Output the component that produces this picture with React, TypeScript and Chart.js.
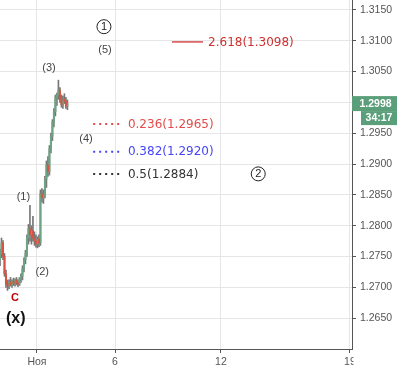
import React, { useEffect, useRef } from 'react';
import { Chart, registerables } from 'chart.js';

Chart.register(...registerables);

// ---- data ----
const candleOpen = [1.2745, 1.2755, 1.2772, 1.2750, 1.2722, 1.2705, 1.2702, 1.2708, 1.2704, 1.2710, 1.2706, 1.2712, 1.2707, 1.2705, 1.2714, 1.2718, 1.2730, 1.2745, 1.2755, 1.2780, 1.2795, 1.2785, 1.2792, 1.2780, 1.2775, 1.2770, 1.2778, 1.2772, 1.2852, 1.2845, 1.2850, 1.2875, 1.2898, 1.2888, 1.2925, 1.2945, 1.2968, 1.2985, 1.3008, 1.3012, 1.3020, 1.3004, 1.2996, 1.3005, 1.3002, 1.2994];
const candleHigh = [1.2762, 1.2780, 1.2776, 1.2755, 1.2728, 1.2712, 1.2712, 1.2716, 1.2712, 1.2715, 1.2714, 1.2716, 1.2712, 1.2716, 1.2722, 1.2735, 1.2748, 1.2760, 1.2785, 1.2802, 1.2833, 1.2800, 1.2815, 1.2790, 1.2785, 1.2782, 1.2785, 1.2858, 1.2860, 1.2858, 1.2880, 1.2905, 1.2912, 1.2930, 1.2950, 1.2972, 1.2990, 1.3012, 1.3015, 1.3036, 1.3024, 1.3012, 1.3010, 1.3014, 1.3008, 1.3004];
const candleLow = [1.2735, 1.2748, 1.2745, 1.2718, 1.2700, 1.2695, 1.2698, 1.2702, 1.2700, 1.2703, 1.2702, 1.2704, 1.2701, 1.2703, 1.2708, 1.2712, 1.2725, 1.2738, 1.2750, 1.2770, 1.2775, 1.2770, 1.2775, 1.2768, 1.2765, 1.2764, 1.2766, 1.2768, 1.2838, 1.2836, 1.2845, 1.2862, 1.2880, 1.2882, 1.2918, 1.2938, 1.2960, 1.2978, 1.2995, 1.3005, 1.3000, 1.2992, 1.2990, 1.2998, 1.2990, 1.2988];
const candleClose = [1.2755, 1.2772, 1.2750, 1.2722, 1.2705, 1.2702, 1.2708, 1.2704, 1.2710, 1.2706, 1.2712, 1.2707, 1.2705, 1.2714, 1.2718, 1.2730, 1.2745, 1.2755, 1.2780, 1.2795, 1.2785, 1.2792, 1.2780, 1.2775, 1.2770, 1.2778, 1.2772, 1.2852, 1.2845, 1.2850, 1.2875, 1.2898, 1.2888, 1.2925, 1.2945, 1.2968, 1.2985, 1.3008, 1.3012, 1.3020, 1.3004, 1.2996, 1.3005, 1.3002, 1.2994, 1.2998];

const xTickSlots = [24.7, 76.8, 147.5, 233.6];
const xTickLabels = ['Ноя', '6', '12', '19'];
const yTickValues = [1.265, 1.27, 1.275, 1.28, 1.285, 1.29, 1.295, 1.3, 1.305, 1.31, 1.315];
const yTickLabels = ['1.2650', '1.2700', '1.2750', '1.2800', '1.2850', '1.2900', '1.2950', '1.3000', '1.3050', '1.3100', '1.3150'];

const fibLevels = [1.3098, 1.2965, 1.2920, 1.2884];
const fibTexts = ['2.618(1.3098)', '0.236(1.2965)', '0.382(1.2920)', '0.5(1.2884)'];
const fibColors = ['#d03030', '#e24c4c', '#4646f5', '#333333'];
const fibDotted = [false, true, true, true];
const fibStart = [114.8, 62.2, 62.2, 62.2];
const fibEnd = [135.5, 80.8, 80.8, 80.8];
const fibTextSlot = [138.9, 85.4, 85.4, 85.4];

const waveTexts = ['(1)', '(2)', '(3)', '(4)', '(5)'];
const waveSlots = [15.6, 28.2, 32.7, 57.4, 70.1];
const wavePrices = [1.2847, 1.27247, 1.30553, 1.29402, 1.3085];

const circleTexts = ['1', '2'];
const circleSlots = [69.4, 172.4];
const circlePrices = [1.31227, 1.2884];

const lastPrice = 1.2998;
const lastPriceText = '1.2998';
const timerText = '34:17';

const X_MIN = 0;
const X_MAX = 235;
const Y_MIN = 1.26;
const Y_MAX = 1.3166;

const UP = '#6ba583';
const DOWN = '#d75442';
const WICK = '#777777';
const BOX = '#5b9f7a';

export default function App() {
  const ref = useRef<HTMLCanvasElement | null>(null);

  useEffect(() => {
    if (!ref.current) return;
    const idx = candleOpen.map((_, i) => i);
    const wicks = idx.map((i) => ({ x: i, y: [candleLow[i], candleHigh[i]] }));
    const upBodies = idx.filter((i) => candleClose[i] >= candleOpen[i]).map((i) => ({ x: i, y: [candleOpen[i], candleClose[i]] }));
    const downBodies = idx.filter((i) => candleClose[i] < candleOpen[i]).map((i) => ({ x: i, y: [candleClose[i], candleOpen[i]] }));

    const fibDatasets = fibLevels.map((lv, k) => ({
      type: 'line' as const,
      data: [{ x: fibStart[k], y: lv }, { x: fibEnd[k], y: lv }],
      borderColor: fibColors[k],
      borderWidth: fibDotted[k] ? 2 : 1.3,
      borderDash: fibDotted[k] ? [2, 4] : [],
      pointRadius: 0,
      fill: false,
    }));

    const annot = {
      id: 'annot',
      afterDatasetsDraw(chart: any) {
        const ctx = chart.ctx;
        const xs = chart.scales.x;
        const ys = chart.scales.y;
        ctx.save();
        ctx.font = '12px "DejaVu Sans"';
        ctx.textAlign = 'left';
        ctx.textBaseline = 'middle';
        fibLevels.forEach((lv, k) => {
          ctx.fillStyle = fibColors[k];
          ctx.fillText(fibTexts[k], xs.getPixelForValue(fibTextSlot[k]), ys.getPixelForValue(lv) + 0.5);
        });
        ctx.font = '11px "Liberation Sans"';
        ctx.fillStyle = '#444';
        ctx.textAlign = 'center';
        waveTexts.forEach((t, k) => {
          ctx.fillText(t, xs.getPixelForValue(waveSlots[k]), ys.getPixelForValue(wavePrices[k]));
        });
        ctx.font = 'bold 11px "Liberation Sans"';
        ctx.fillStyle = '#c00000';
        ctx.fillText('C', xs.getPixelForValue(10), ys.getPixelForValue(1.26825));
        ctx.font = 'bold 16px "Liberation Sans"';
        ctx.fillStyle = '#111';
        ctx.fillText('(x)', xs.getPixelForValue(10.5), ys.getPixelForValue(1.26501));
        circleTexts.forEach((t, k) => {
          const cx = xs.getPixelForValue(circleSlots[k]);
          const cy = ys.getPixelForValue(circlePrices[k]);
          ctx.beginPath();
          ctx.arc(cx, cy, 7, 0, Math.PI * 2);
          ctx.strokeStyle = '#222';
          ctx.lineWidth = 1;
          ctx.stroke();
          ctx.font = '11px "Liberation Sans"';
          ctx.fillStyle = '#222';
          ctx.fillText(t, cx, cy + 0.5);
        });
        ctx.restore();
      },
      afterDraw(chart: any) {
        const ctx = chart.ctx;
        const ys = chart.scales.y;
        const ca = chart.chartArea;
        ctx.save();
        ctx.fillStyle = '#fff';
        ctx.fillRect(ca.right + 1.5, ca.bottom + 1, 60, 40);
        const py = ys.getPixelForValue(lastPrice);
        ctx.fillStyle = BOX;
        ctx.fillRect(ca.right, py - 7.5, chart.width - ca.right, 15);
        ctx.fillRect(ca.right + 9, py + 7.5, chart.width - ca.right - 9, 14);
        ctx.fillStyle = '#fff';
        ctx.font = 'bold 10.5px "Liberation Sans"';
        ctx.textBaseline = 'middle';
        ctx.textAlign = 'center';
        ctx.fillText(lastPriceText, (ca.right + chart.width) / 2 + 1, py + 0.5);
        ctx.fillText(timerText, (ca.right + 9 + chart.width) / 2, py + 15);
        ctx.restore();
      },
    };

    const tickFont = { family: '"Liberation Sans"', size: 10.5 };

    const chart = new Chart(ref.current, {
      type: 'bar',
      data: {
        datasets: [
          { data: wicks as any, backgroundColor: WICK, barThickness: 1, grouped: false, order: 3 } as any,
          { data: upBodies as any, backgroundColor: UP, barThickness: 1.4, grouped: false, order: 2 } as any,
          { data: downBodies as any, backgroundColor: DOWN, barThickness: 1.4, grouped: false, order: 1 } as any,
          ...(fibDatasets as any[]),
        ],
      },
      options: {
        animation: false,
        responsive: false,
        maintainAspectRatio: false,
        layout: { padding: 0 },
        plugins: { legend: { display: false }, tooltip: { enabled: false } },
        scales: {
          x: {
            type: 'linear',
            min: X_MIN,
            max: X_MAX,
            offset: false,
            grid: { color: '#e6e6e6', tickColor: '#555', tickLength: 4, offset: false },
            border: { color: '#555' },
            ticks: {
              font: tickFont,
              color: '#555',
              padding: 3,
              maxRotation: 0,
              autoSkip: false,
              callback: (_v: any, i: number) => xTickLabels[i],
            },
            afterBuildTicks: (s: any) => {
              s.ticks = xTickSlots.map((v) => ({ value: v }));
            },
            afterFit: (s: any) => {
              s.height = 23;
              s.paddingLeft = 0;
              s.paddingRight = 0;
            },
          },
          y: {
            type: 'linear',
            position: 'right',
            min: Y_MIN,
            max: Y_MAX,
            grid: { color: '#e6e6e6', tickColor: '#555', tickLength: 4 },
            border: { color: '#555' },
            ticks: {
              font: tickFont,
              color: '#555',
              padding: 4,
              callback: (_v: any, i: number) => yTickLabels[i],
            },
            afterBuildTicks: (s: any) => {
              s.ticks = yTickValues.map((v) => ({ value: v }));
            },
            afterFit: (s: any) => {
              s.width = 45;
              s.paddingTop = 0;
              s.paddingBottom = 0;
            },
          },
        },
      } as any,
      plugins: [annot],
    });
    return () => chart.destroy();
  }, []);

  return (
    <div style={{ position: 'fixed', left: 0, top: 0, width: 397, height: 372, background: '#fff' }}>
      <canvas ref={ref} width={397} height={372} style={{ width: 397, height: 372, display: 'block' }} />
    </div>
  );
}
